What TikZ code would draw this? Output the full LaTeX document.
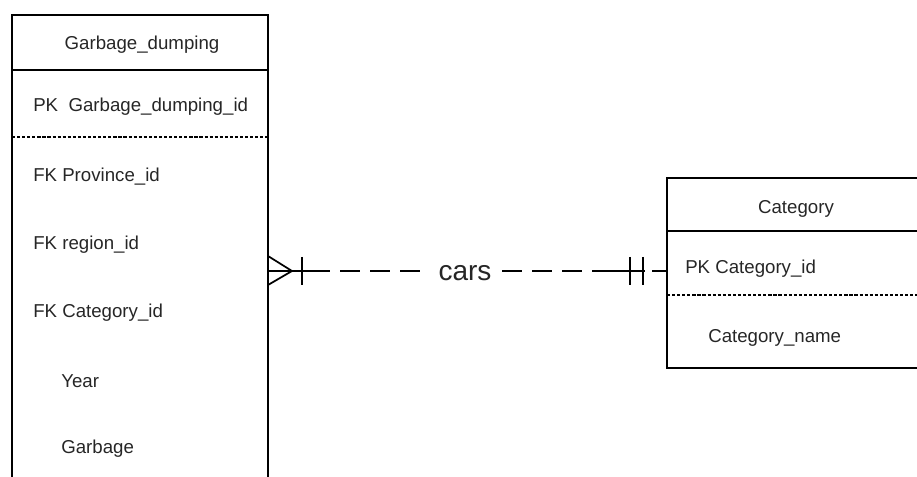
\documentclass[tikz,border=0pt]{standalone}
\usepackage{fontspec}
\setmainfont{Liberation Sans}
\usetikzlibrary{positioning, calc}

\begin{document}
\begin{tikzpicture}[x=0.75pt, y=-0.75pt,
    field/.style={anchor=west, inner sep=0pt, text=black!85, font=\fontsize{14}{16}\selectfont},
    title/.style={inner sep=0pt, text=black!85, font=\fontsize{14}{16}\selectfont},
    border/.style={line width=1.7pt},
    divider/.style={line width=1.5pt, dash pattern=on 2.4pt off 1.4pt},
    rel/.style={line width=1.3pt}]
    \useasboundingbox (0,0) rectangle (917,477);
    \clip (0,0) rectangle (917,477);

    \draw[border] (12,15) rectangle (268,520);
    \draw[border] (12,70) -- (268,70);
    \draw[divider] (12,137) -- (268,137);
    \node[title] (gdname) at (142,45) {Garbage\_dumping};
    \node[field] (gdpk) at (33,107) {PK\ \ Garbage\_dumping\_id};
    \node[field] (gdprov) at (33,177) {FK Province\_id};
    \node[field] (gdreg) at (33,245) {FK region\_id};
    \node[field] (gdcat) at (33,313) {FK Category\_id};
    \node[field] (gdyear) at (61,381) {Year};
    \node[field] (gdgarb) at (61,449) {Garbage};

    \draw[border] (667,178) rectangle (940,368);
    \draw[border] (667,231) -- (940,231);
    \draw[divider] (667,295) -- (940,295);
    \node[title] (catname) at (796,209) {Category};
    \node[field] (catpk) at (685,269) {PK Category\_id};
    \node[field] (catnm) at (708,338) {Category\_name};

    \coordinate (gdE) at (268,271);
    \coordinate (catW) at (667,271);
    \node[inner xsep=8pt, inner ysep=0pt, font=\fontsize{21}{24}\selectfont, text=black!85] (cars) at (465,273) {cars};
    \coordinate (d1) at (310,271);
    \coordinate (d2) at (608,271);

    \draw[rel] ($(gdE)+(0,-15)$) -- ($(gdE)+(24,0)$) -- ($(gdE)+(0,14)$);
    \draw[rel] (gdE) -- (d1);
    \draw[rel] ($(gdE)+(34,-14)$) -- ($(gdE)+(34,14)$);
    \draw[rel, dash pattern=on 15pt off 7.5pt] (d1) -- (d1 -| cars.west);
    \draw[rel, dash pattern=on 15pt off 7.5pt] (d2 -| cars.east) -- (d2);

    \draw[rel] (d2) -- ($(catW)+(-22,0)$);
    \draw[rel] ($(catW)+(-37,-14)$) -- ($(catW)+(-37,14)$);
    \draw[rel] ($(catW)+(-24,-14)$) -- ($(catW)+(-24,14)$);
    \draw[rel] ($(catW)+(-15,0)$) -- (catW);
\end{tikzpicture}
\end{document}
